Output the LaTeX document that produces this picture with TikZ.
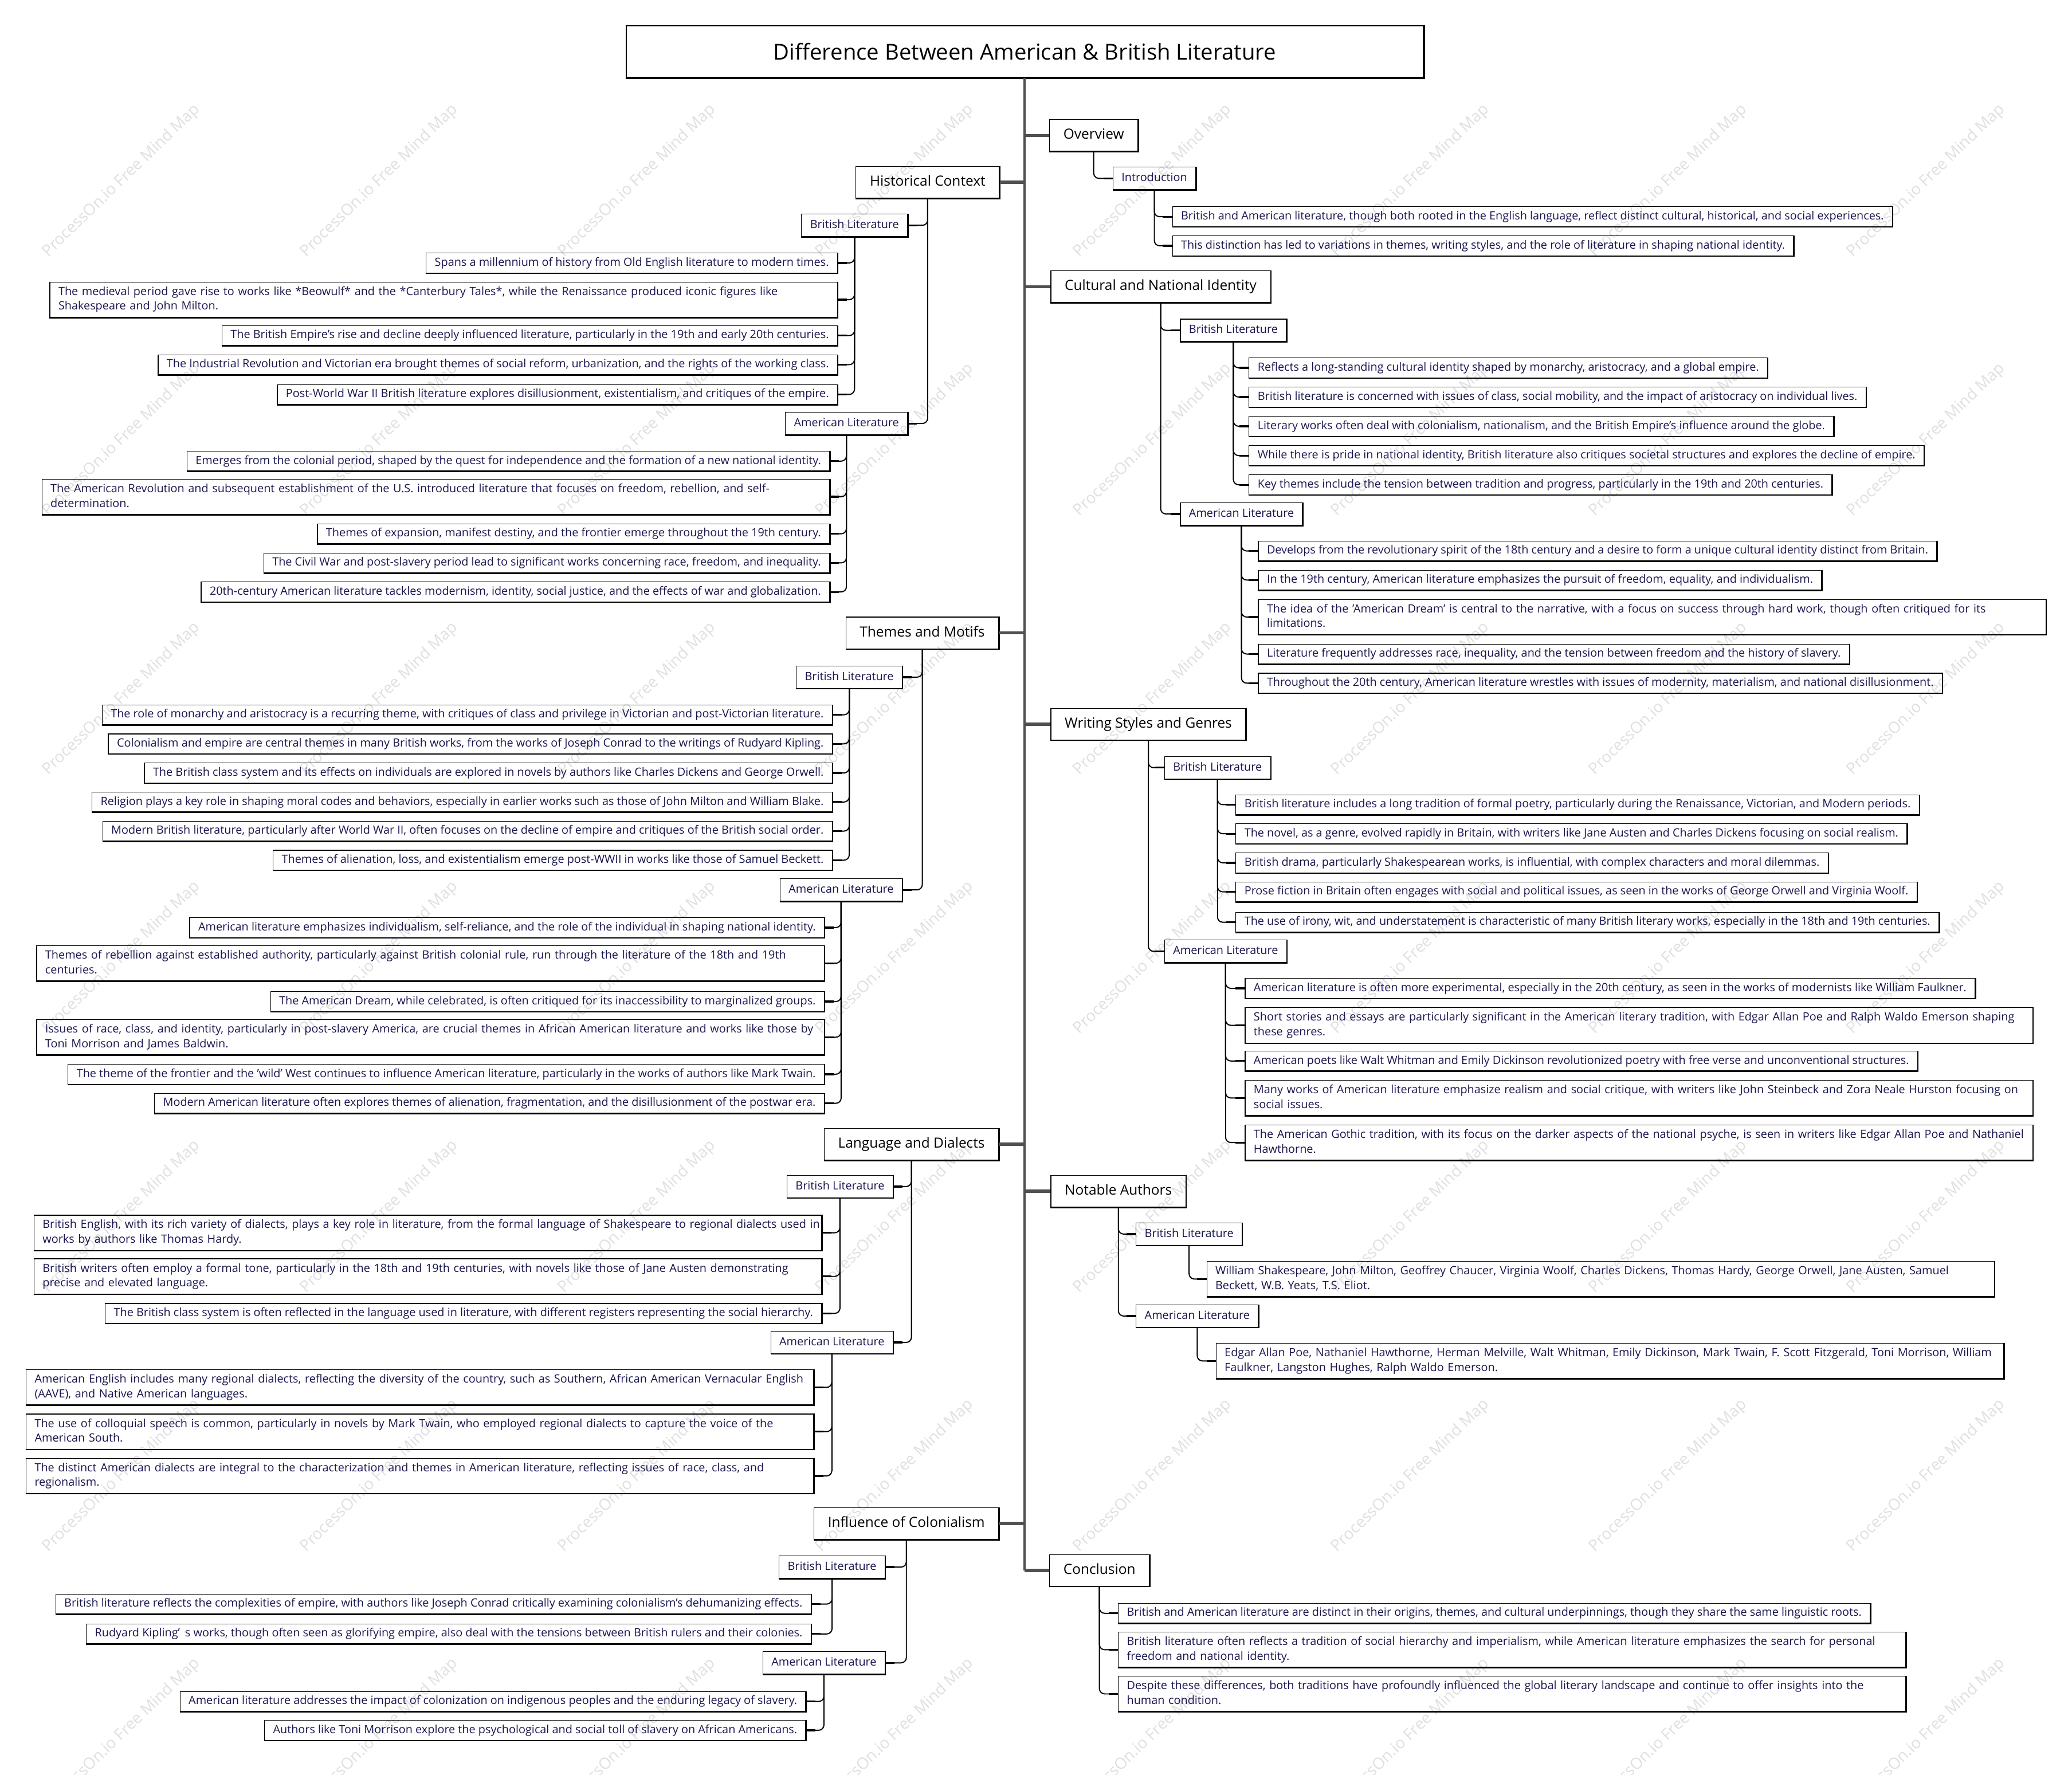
\documentclass[tikz,border=0pt]{standalone}
\usepackage{fontspec}
\setmainfont{Open Sans}
\usetikzlibrary{calc}
\definecolor{navy}{RGB}{24,22,78}
\definecolor{trunkgray}{RGB}{80,80,80}
\definecolor{wm}{RGB}{224,224,224}
\newcommand\TL[2]{\mbox{#1\strut}\\\mbox{#2\strut}}
\newcommand\linkR[2]{\draw[conn] (#1.south) |- (#2.west); \draw[stub] ([xshift=-7pt]#2.west) -- (#2.west);}
\newcommand\linkL[2]{\draw[conn] (#1.south) |- (#2.east); \draw[stub] ([xshift=7pt]#2.east) -- (#2.east);}
\newcommand\topicR[1]{\draw[tconn] (T.south |- #1.west) -- (#1.west);}
\newcommand\topicL[1]{\draw[tconn] (T.south |- #1.east) -- (#1.east);}
\tikzset{
 boxed/.style={draw=black, line width=0.5pt, append after command={\pgfextra{\draw[line width=1.1pt] (\tikzlastnode.south west) -- (\tikzlastnode.south east) -- (\tikzlastnode.north east);}}},
 mtitle/.style={draw=black, line width=0.9pt, minimum width=603pt, minimum height=39pt, inner sep=0pt, font=\fontsize{16.6}{20}\selectfont, append after command={\pgfextra{\draw[line width=1.6pt] (\tikzlastnode.south west) -- (\tikzlastnode.south east) -- (\tikzlastnode.north east);}}},
 topic/.style={boxed, minimum height=24pt, inner xsep=10.5pt, inner ysep=0pt, text height=8pt, text depth=2.4pt, font=\fontsize{10.6}{13}\selectfont},
 subt/.style={boxed, text=navy, minimum height=17pt, inner xsep=6.5pt, inner ysep=0pt, text height=6.5pt, text depth=2pt, font=\fontsize{8.6}{11.1}\selectfont},
 leaf/.style={boxed, text=navy, minimum height=15pt, inner xsep=6.5pt, inner ysep=0pt, text height=6.5pt, text depth=2pt, font=\fontsize{8.6}{11.1}\selectfont},
 leaftwo/.style={boxed, text=navy, inner xsep=6.5pt, inner ysep=2.2pt, text width=583pt, align=left, font=\fontsize{8.6}{11.1}\selectfont},
 conn/.style={draw=black, line width=0.85pt, rounded corners=4pt},
 stub/.style={draw=black, line width=1.4pt},
 trunk/.style={draw=trunkgray, line width=1.8pt},
 tconn/.style={draw=trunkgray, line width=2.4pt},
 wmark/.style={text=wm, rotate=44, font=\fontsize{12}{12}\selectfont},
}
\begin{document}
\begin{tikzpicture}[x=1pt,y=-1pt]
\fill[white] (0,0) rectangle (1568,1343);
\useasboundingbox (0,0) rectangle (1568,1343);
\foreach \i in {0,...,7}{\foreach \j in {0,...,6}{
  \node[wmark] (wm-\i-\j) at ({92+195.1*\i},{137+196*\j}) {ProcessOn.io Free Mind Map};}}

% title
\node[mtitle] (T) at (775.5,39) {Difference Between American \& British Literature};

% ---------- right side ----------
\node[topic, anchor=west] (R1) at (794,102.5) {Overview};
\node[subt, anchor=west] (R1a) at (842,135) {Introduction};
\node[leaf, anchor=west] (R1a1) at (887,164) {British and American literature, though both rooted in the English language, reflect distinct cultural, historical, and social experiences.};
\node[leaf, anchor=west] (R1a2) at (887,186) {This distinction has led to variations in themes, writing styles, and the role of literature in shaping national identity.};

\node[topic, anchor=west] (R2) at (795,217) {Cultural and National Identity};
\node[subt, anchor=west] (R2a) at (893,250) {British Literature};
\node[leaf, anchor=west] (R2a1) at (945,278.4) {Reflects a long-standing cultural identity shaped by monarchy, aristocracy, and a global empire.};
\node[leaf, anchor=west] (R2a2) at (945,300.5) {British literature is concerned with issues of class, social mobility, and the impact of aristocracy on individual lives.};
\node[leaf, anchor=west] (R2a3) at (945,322.6) {Literary works often deal with colonialism, nationalism, and the British Empire's influence around the globe.};
\node[leaf, anchor=west] (R2a4) at (945,344.8) {While there is pride in national identity, British literature also critiques societal structures and explores the decline of empire.};
\node[leaf, anchor=west] (R2a5) at (945,366.9) {Key themes include the tension between tradition and progress, particularly in the 19th and 20th centuries.};
\node[subt, anchor=west] (R2b) at (893,389) {American Literature};
\node[leaf, anchor=west] (R2b1) at (952,417) {Develops from the revolutionary spirit of the 18th century and a desire to form a unique cultural identity distinct from Britain.};
\node[leaf, anchor=west] (R2b2) at (952,439) {In the 19th century, American literature emphasizes the pursuit of freedom, equality, and individualism.};
\node[leaftwo, anchor=west] (R2b3) at (952,467) {\TL{The idea of the 'American Dream' is central to the narrative, with a focus on success through hard work, though often critiqued for its}{limitations.}};
\node[leaf, anchor=west] (R2b4) at (952,495) {Literature frequently addresses race, inequality, and the tension between freedom and the history of slavery.};
\node[leaf, anchor=west] (R2b5) at (952,517) {Throughout the 20th century, American literature wrestles with issues of modernity, materialism, and national disillusionment.};

\node[topic, anchor=west] (R3) at (795,548) {Writing Styles and Genres};
\node[subt, anchor=west] (R3a) at (881,581) {British Literature};
\node[leaf, anchor=west] (R3a1) at (935,609) {British literature includes a long tradition of formal poetry, particularly during the Renaissance, Victorian, and Modern periods.};
\node[leaf, anchor=west] (R3a2) at (935,631) {The novel, as a genre, evolved rapidly in Britain, with writers like Jane Austen and Charles Dickens focusing on social realism.};
\node[leaf, anchor=west] (R3a3) at (935,653) {British drama, particularly Shakespearean works, is influential, with complex characters and moral dilemmas.};
\node[leaf, anchor=west] (R3a4) at (935,675) {Prose fiction in Britain often engages with social and political issues, as seen in the works of George Orwell and Virginia Woolf.};
\node[leaf, anchor=west] (R3a5) at (935,698) {The use of irony, wit, and understatement is characteristic of many British literary works, especially in the 18th and 19th centuries.};
\node[subt, anchor=west] (R3b) at (881,720) {American Literature};
\node[leaf, anchor=west] (R3b1) at (942,748) {American literature is often more experimental, especially in the 20th century, as seen in the works of modernists like William Faulkner.};
\node[leaftwo, anchor=west] (R3b2) at (942,776) {\TL{Short stories and essays are particularly significant in the American literary tradition, with Edgar Allan Poe and Ralph Waldo Emerson shaping}{these genres.}};
\node[leaf, anchor=west] (R3b3) at (942,803) {American poets like Walt Whitman and Emily Dickinson revolutionized poetry with free verse and unconventional structures.};
\node[leaftwo, anchor=west] (R3b4) at (942,831) {\TL{Many works of American literature emphasize realism and social critique, with writers like John Steinbeck and Zora Neale Hurston focusing on}{social issues.}};
\node[leaftwo, anchor=west] (R3b5) at (942,864.7) {\TL{The American Gothic tradition, with its focus on the darker aspects of the national psyche, is seen in writers like Edgar Allan Poe and Nathaniel}{Hawthorne.}};

\node[topic, anchor=west] (R4) at (795,901.5) {Notable Authors};
\node[subt, anchor=west] (R4a) at (859.5,934) {British Literature};
\node[leaftwo, anchor=west] (R4a1) at (913,968) {\TL{William Shakespeare, John Milton, Geoffrey Chaucer, Virginia Woolf, Charles Dickens, Thomas Hardy, George Orwell, Jane Austen, Samuel}{Beckett, W.B. Yeats, T.S. Eliot.}};
\node[subt, anchor=west] (R4b) at (859.5,996) {American Literature};
\node[leaftwo, anchor=west] (R4b1) at (920,1030) {\TL{Edgar Allan Poe, Nathaniel Hawthorne, Herman Melville, Walt Whitman, Emily Dickinson, Mark Twain, F. Scott Fitzgerald, Toni Morrison, William}{Faulkner, Langston Hughes, Ralph Waldo Emerson.}};

\node[topic, anchor=west] (R5) at (794,1188.5) {Conclusion};
\node[leaf, anchor=west] (R5a) at (846,1221) {British and American literature are distinct in their origins, themes, and cultural underpinnings, though they share the same linguistic roots.};
\node[leaftwo, anchor=west] (R5b) at (846,1248.6) {\TL{British literature often reflects a tradition of social hierarchy and imperialism, while American literature emphasizes the search for personal}{freedom and national identity.}};
\node[leaftwo, anchor=west] (R5c) at (846,1282) {\TL{Despite these differences, both traditions have profoundly influenced the global literary landscape and continue to offer insights into the}{human condition.}};

% ---------- left side ----------
\node[topic, anchor=east] (L1) at (756.5,138) {Historical Context};
\node[subt, anchor=east] (L1a) at (687,170.5) {British Literature};
\node[leaf, anchor=east] (L1a1) at (634,199) {Spans a millennium of history from Old English literature to modern times.};
\node[leaftwo, anchor=east] (L1a2) at (634,226.8) {\TL{The medieval period gave rise to works like *Beowulf* and the *Canterbury Tales*, while the Renaissance produced iconic figures like}{Shakespeare and John Milton.}};
\node[leaf, anchor=east] (L1a3) at (634,254) {The British Empire's rise and decline deeply influenced literature, particularly in the 19th and early 20th centuries.};
\node[leaf, anchor=east] (L1a4) at (634,276) {The Industrial Revolution and Victorian era brought themes of social reform, urbanization, and the rights of the working class.};
\node[leaf, anchor=east] (L1a5) at (634,298.5) {Post-World War II British literature explores disillusionment, existentialism, and critiques of the empire.};
\node[subt, anchor=east] (L1b) at (687,320.5) {American Literature};
\node[leaf, anchor=east] (L1b1) at (628,349) {Emerges from the colonial period, shaped by the quest for independence and the formation of a new national identity.};
\node[leaftwo, anchor=east] (L1b2) at (628,376) {\TL{The American Revolution and subsequent establishment of the U.S. introduced literature that focuses on freedom, rebellion, and self-}{determination.}};
\node[leaf, anchor=east] (L1b3) at (628,404) {Themes of expansion, manifest destiny, and the frontier emerge throughout the 19th century.};
\node[leaf, anchor=east] (L1b4) at (628,426) {The Civil War and post-slavery period lead to significant works concerning race, freedom, and inequality.};
\node[leaf, anchor=east] (L1b5) at (628,448) {20th-century American literature tackles modernism, identity, social justice, and the effects of war and globalization.};

\node[topic, anchor=east] (L2) at (756,479) {Themes and Motifs};
\node[subt, anchor=east] (L2a) at (683,512.5) {British Literature};
\node[leaf, anchor=east] (L2a1) at (630,541) {The role of monarchy and aristocracy is a recurring theme, with critiques of class and privilege in Victorian and post-Victorian literature.};
\node[leaf, anchor=east] (L2a2) at (630,563) {Colonialism and empire are central themes in many British works, from the works of Joseph Conrad to the writings of Rudyard Kipling.};
\node[leaf, anchor=east] (L2a3) at (630,585) {The British class system and its effects on individuals are explored in novels by authors like Charles Dickens and George Orwell.};
\node[leaf, anchor=east] (L2a4) at (630,607) {Religion plays a key role in shaping moral codes and behaviors, especially in earlier works such as those of John Milton and William Blake.};
\node[leaf, anchor=east] (L2a5) at (630,629) {Modern British literature, particularly after World War II, often focuses on the decline of empire and critiques of the British social order.};
\node[leaf, anchor=east] (L2a6) at (630,651) {Themes of alienation, loss, and existentialism emerge post-WWII in works like those of Samuel Beckett.};
\node[subt, anchor=east] (L2b) at (683,673.5) {American Literature};
\node[leaf, anchor=east] (L2b1) at (624,702) {American literature emphasizes individualism, self-reliance, and the role of the individual in shaping national identity.};
\node[leaftwo, anchor=east] (L2b2) at (624,729) {\TL{Themes of rebellion against established authority, particularly against British colonial rule, run through the literature of the 18th and 19th}{centuries.}};
\node[leaf, anchor=east] (L2b3) at (624,758) {The American Dream, while celebrated, is often critiqued for its inaccessibility to marginalized groups.};
\node[leaftwo, anchor=east] (L2b4) at (624,785) {\TL{Issues of race, class, and identity, particularly in post-slavery America, are crucial themes in African American literature and works like those by}{Toni Morrison and James Baldwin.}};
\node[leaf, anchor=east] (L2b5) at (624,813) {The theme of the frontier and the 'wild' West continues to influence American literature, particularly in the works of authors like Mark Twain.};
\node[leaf, anchor=east] (L2b6) at (624,835) {Modern American literature often explores themes of alienation, fragmentation, and the disillusionment of the postwar era.};

\node[topic, anchor=east] (L3) at (756,866) {Language and Dialects};
\node[subt, anchor=east] (L3a) at (676,898) {British Literature};
\node[leaftwo, anchor=east] (L3a1) at (622,933) {\TL{British English, with its rich variety of dialects, plays a key role in literature, from the formal language of Shakespeare to regional dialects used in}{works by authors like Thomas Hardy.}};
\node[leaftwo, anchor=east] (L3a2) at (622,966) {\TL{British writers often employ a formal tone, particularly in the 18th and 19th centuries, with novels like those of Jane Austen demonstrating}{precise and elevated language.}};
\node[leaf, anchor=east] (L3a3) at (622,994) {The British class system is often reflected in the language used in literature, with different registers representing the social hierarchy.};
\node[subt, anchor=east] (L3b) at (676,1016) {American Literature};
\node[leaftwo, anchor=east] (L3b1) at (616,1050) {\TL{American English includes many regional dialects, reflecting the diversity of the country, such as Southern, African American Vernacular English}{(AAVE), and Native American languages.}};
\node[leaftwo, anchor=east] (L3b2) at (616,1083.5) {\TL{The use of colloquial speech is common, particularly in novels by Mark Twain, who employed regional dialects to capture the voice of the}{American South.}};
\node[leaftwo, anchor=east] (L3b3) at (616,1117) {\TL{The distinct American dialects are integral to the characterization and themes in American literature, reflecting issues of race, class, and}{regionalism.}};

\node[topic, anchor=east] (L4) at (756,1153) {Influence of Colonialism};
\node[subt, anchor=east] (L4a) at (670,1186) {British Literature};
\node[leaf, anchor=east] (L4a1) at (614,1214) {British literature reflects the complexities of empire, with authors like Joseph Conrad critically examining colonialism's dehumanizing effects.};
\node[leaf, anchor=east] (L4a2) at (614,1236.6) {Rudyard Kipling’\hspace{0.45em}s works, though often seen as glorifying empire, also deal with the tensions between British rulers and their colonies.};
\node[subt, anchor=east] (L4b) at (670,1258.5) {American Literature};
\node[leaf, anchor=east] (L4b1) at (610,1287.7) {American literature addresses the impact of colonization on indigenous peoples and the enduring legacy of slavery.};
\node[leaf, anchor=east] (L4b2) at (610,1309.5) {Authors like Toni Morrison explore the psychological and social toll of slavery on African Americans.};

% ---------- trunk ----------
\coordinate (trunkend) at (T.south |- R5.west);
\draw[trunk] (T.south) -- (trunkend);
\topicR{R1}\topicR{R2}\topicR{R3}\topicR{R4}\topicR{R5}
\topicL{L1}\topicL{L2}\topicL{L3}\topicL{L4}

% ---------- connectors right ----------
\linkR{R1}{R1a}
\linkR{R1a}{R1a1}\linkR{R1a}{R1a2}
\linkR{R2}{R2a}\linkR{R2}{R2b}
\foreach \k in {1,...,5}{\linkR{R2a}{R2a\k}\linkR{R2b}{R2b\k}}
\linkR{R3}{R3a}\linkR{R3}{R3b}
\foreach \k in {1,...,5}{\linkR{R3a}{R3a\k}\linkR{R3b}{R3b\k}}
\linkR{R4}{R4a}\linkR{R4}{R4b}
\linkR{R4a}{R4a1}\linkR{R4b}{R4b1}
\linkR{R5}{R5a}\linkR{R5}{R5b}\linkR{R5}{R5c}

% ---------- connectors left ----------
\linkL{L1}{L1a}\linkL{L1}{L1b}
\foreach \k in {1,...,5}{\linkL{L1a}{L1a\k}\linkL{L1b}{L1b\k}}
\linkL{L2}{L2a}\linkL{L2}{L2b}
\foreach \k in {1,...,6}{\linkL{L2a}{L2a\k}\linkL{L2b}{L2b\k}}
\linkL{L3}{L3a}\linkL{L3}{L3b}
\foreach \k in {1,...,3}{\linkL{L3a}{L3a\k}\linkL{L3b}{L3b\k}}
\linkL{L4}{L4a}\linkL{L4}{L4b}
\foreach \k in {1,2}{\linkL{L4a}{L4a\k}\linkL{L4b}{L4b\k}}
\end{tikzpicture}
\end{document}
